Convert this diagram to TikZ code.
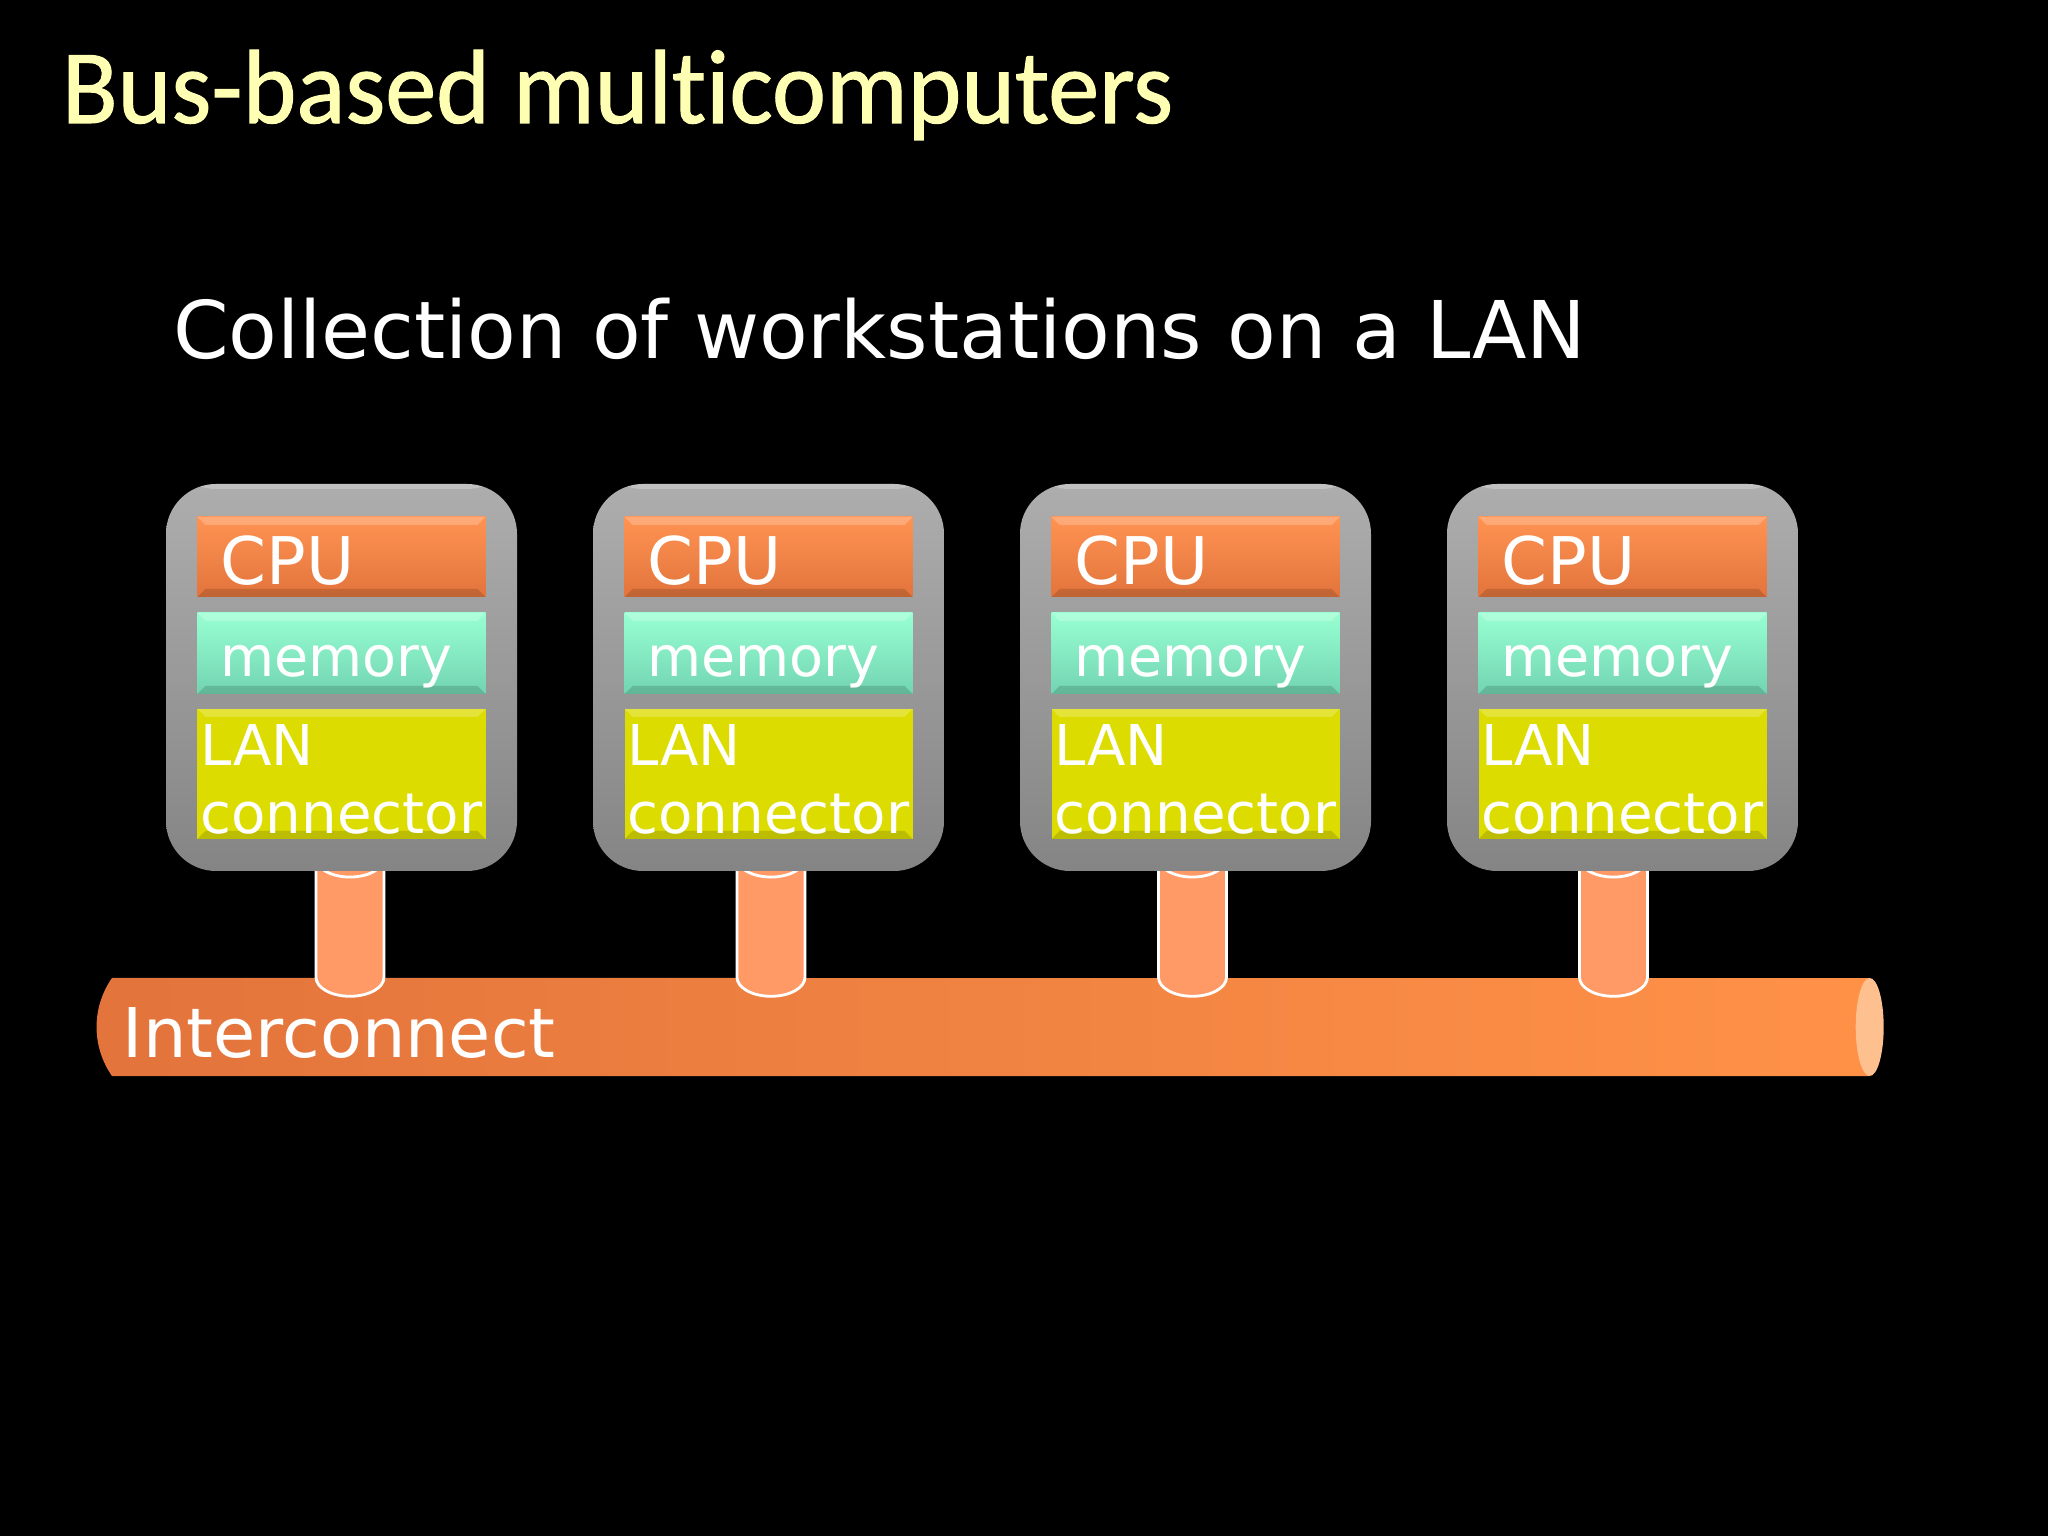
\documentclass[tikz,border=0pt]{standalone}
\usepackage{fontspec}
\usepackage{tikz}
\usetikzlibrary{shapes.geometric,shapes.misc,backgrounds}
\setmainfont{DejaVu Sans}
\newfontfamily\titlefont[Ligatures=NoCommon,FakeBold=1]{Carlito}
\definecolor{titleyellow}{HTML}{FFFFB4}
\definecolor{cputop}{HTML}{FF9352}
\definecolor{cpubot}{HTML}{E2743C}
\definecolor{memtop}{HTML}{98FFD2}
\definecolor{membot}{HTML}{72D4B2}
\definecolor{lanyellow}{HTML}{DCDC00}
\definecolor{stuborange}{HTML}{FF9966}
\definecolor{capcolor}{HTML}{FFC090}

\begin{document}
\begin{tikzpicture}[-,node distance=4.27cm,semithick]
\tikzstyle{bevel}=[path picture={
  \fill[white,opacity=0.22] (path picture bounding box.north west) -- (path picture bounding box.north east)
    -- ([xshift=-0.08cm,yshift=-0.08cm]path picture bounding box.north east) -- ([xshift=0.08cm,yshift=-0.08cm]path picture bounding box.north west) -- cycle;
  \fill[black,opacity=0.14] (path picture bounding box.south west) -- (path picture bounding box.south east)
    -- ([xshift=-0.08cm,yshift=0.08cm]path picture bounding box.south east) -- ([xshift=0.08cm,yshift=0.08cm]path picture bounding box.south west) -- cycle;
}]
\tikzstyle{box}=[rectangle,rounded corners=0.5cm,minimum width=3.51cm,minimum height=3.87cm,top color=black!32,bottom color=black!48,
  path picture={\fill[white,opacity=0.25] (path picture bounding box.north west) rectangle ([yshift=-0.05cm]path picture bounding box.north east);}]
\tikzstyle{cpu}=[rectangle,bevel,minimum width=2.88cm,minimum height=0.8cm,top color=cputop,bottom color=cpubot,text=white,text width=2.42cm,inner xsep=0.23cm,inner ysep=0,align=left,text height=0.56cm,text depth=0,font=\fontsize{18.7pt}{20pt}\selectfont]
\tikzstyle{memory}=[rectangle,bevel,minimum width=2.88cm,minimum height=0.81cm,top color=memtop,bottom color=membot,text=white,text width=2.42cm,inner xsep=0.23cm,inner ysep=0,align=left,text height=0.47cm,text depth=0,font=\fontsize{15.8pt}{18pt}\selectfont]
\tikzstyle{lan}=[rectangle,bevel,minimum width=2.88cm,minimum height=1.3cm,fill=lanyellow,text=white,text width=2.82cm,inner xsep=0.03cm,inner ysep=0,align=left,text height=0.42cm,text depth=0.59cm,font=\fontsize{16pt}{19.3pt}\selectfont]
\tikzstyle{stub}=[draw=white,thick,fill=stuborange,to path={
  ([xshift=-0.34cm]\tikztostart) -- ([xshift=-0.34cm]\tikztotarget) arc[start angle=180,end angle=360,x radius=0.34cm,y radius=0.19cm]
  -- ([xshift=0.34cm]\tikztostart) -- cycle
  ([xshift=-0.34cm]\tikztostart) arc[start angle=180,end angle=360,x radius=0.34cm,y radius=0.19cm]}]
\useasboundingbox (0,0) rectangle (20.48,-15.36);
\node[anchor=base west,inner sep=0,text=titleyellow,xscale=0.97,transform shape,font=\titlefont\fontsize{30pt}{34pt}\selectfont] (title) at (0.61,-1.23) {Bus-based multicomputers};
\node[anchor=base west,inner sep=0,text=white,font=\fontsize{22.65pt}{26pt}\selectfont] (subtitle) at (1.72,-3.59) {Collection of workstations on a LAN};

\node[box] (box1) at (3.415,-6.775) {};
\node[box] (box2) [right of=box1] {};
\node[box] (box3) [right of=box2] {};
\node[box] (box4) [right of=box3] {};

\node[cpu] (cpu1) [above of=box1,node distance=1.205cm] {CPU};
\node[cpu] (cpu2) [above of=box2,node distance=1.205cm] {CPU};
\node[cpu] (cpu3) [above of=box3,node distance=1.205cm] {CPU};
\node[cpu] (cpu4) [above of=box4,node distance=1.205cm] {CPU};
\node[memory] (mem1) [below of=cpu1,node distance=0.965cm] {memory};
\node[memory] (mem2) [below of=cpu2,node distance=0.965cm] {memory};
\node[memory] (mem3) [below of=cpu3,node distance=0.965cm] {memory};
\node[memory] (mem4) [below of=cpu4,node distance=0.965cm] {memory};
\node[lan] (lan1) [below of=mem1,node distance=1.205cm] {LAN\\connector};
\node[lan] (lan2) [below of=mem2,node distance=1.205cm] {LAN\\connector};
\node[lan] (lan3) [below of=mem3,node distance=1.205cm] {LAN\\connector};
\node[lan] (lan4) [below of=mem4,node distance=1.205cm] {LAN\\connector};

\begin{scope}[on background layer]
\fill[black] (0,0) rectangle (20.48,-15.36);
\node[rounded rectangle,rounded rectangle east arc=none,rounded rectangle arc length=70,minimum width=17.67cm,minimum height=0.98cm,left color=cpubot,middle color=cputop!85!cpubot,right color=stuborange!70!orange,text=white,text width=17.25cm,inner xsep=0.21cm,inner ysep=0,align=left,text height=0.6cm,text depth=0,font=\fontsize{19.5pt}{22pt}\selectfont] (bus) at (9.855,-10.27) {Interconnect};
\node[ellipse,minimum width=0.28cm,minimum height=0.98cm,inner sep=0,fill=capcolor] (busend) at (bus.east) {};

\coordinate (top1) at ([xshift=0.085cm,yshift=0.14cm]box1.south);
\coordinate (top2) at ([xshift=0.025cm,yshift=0.14cm]box2.south);
\coordinate (top3) at ([xshift=-0.03cm,yshift=0.14cm]box3.south);
\coordinate (top4) at ([xshift=-0.09cm,yshift=0.14cm]box4.south);
\coordinate (bot1) at (top1 |- bus.north);
\coordinate (bot2) at (top2 |- bus.north);
\coordinate (bot3) at (top3 |- bus.north);
\coordinate (bot4) at (top4 |- bus.north);

\path (top1) edge[stub] (bot1);
\path (top2) edge[stub] (bot2);
\path (top3) edge[stub] (bot3);
\path (top4) edge[stub] (bot4);
\end{scope}
\end{tikzpicture}
\end{document}
